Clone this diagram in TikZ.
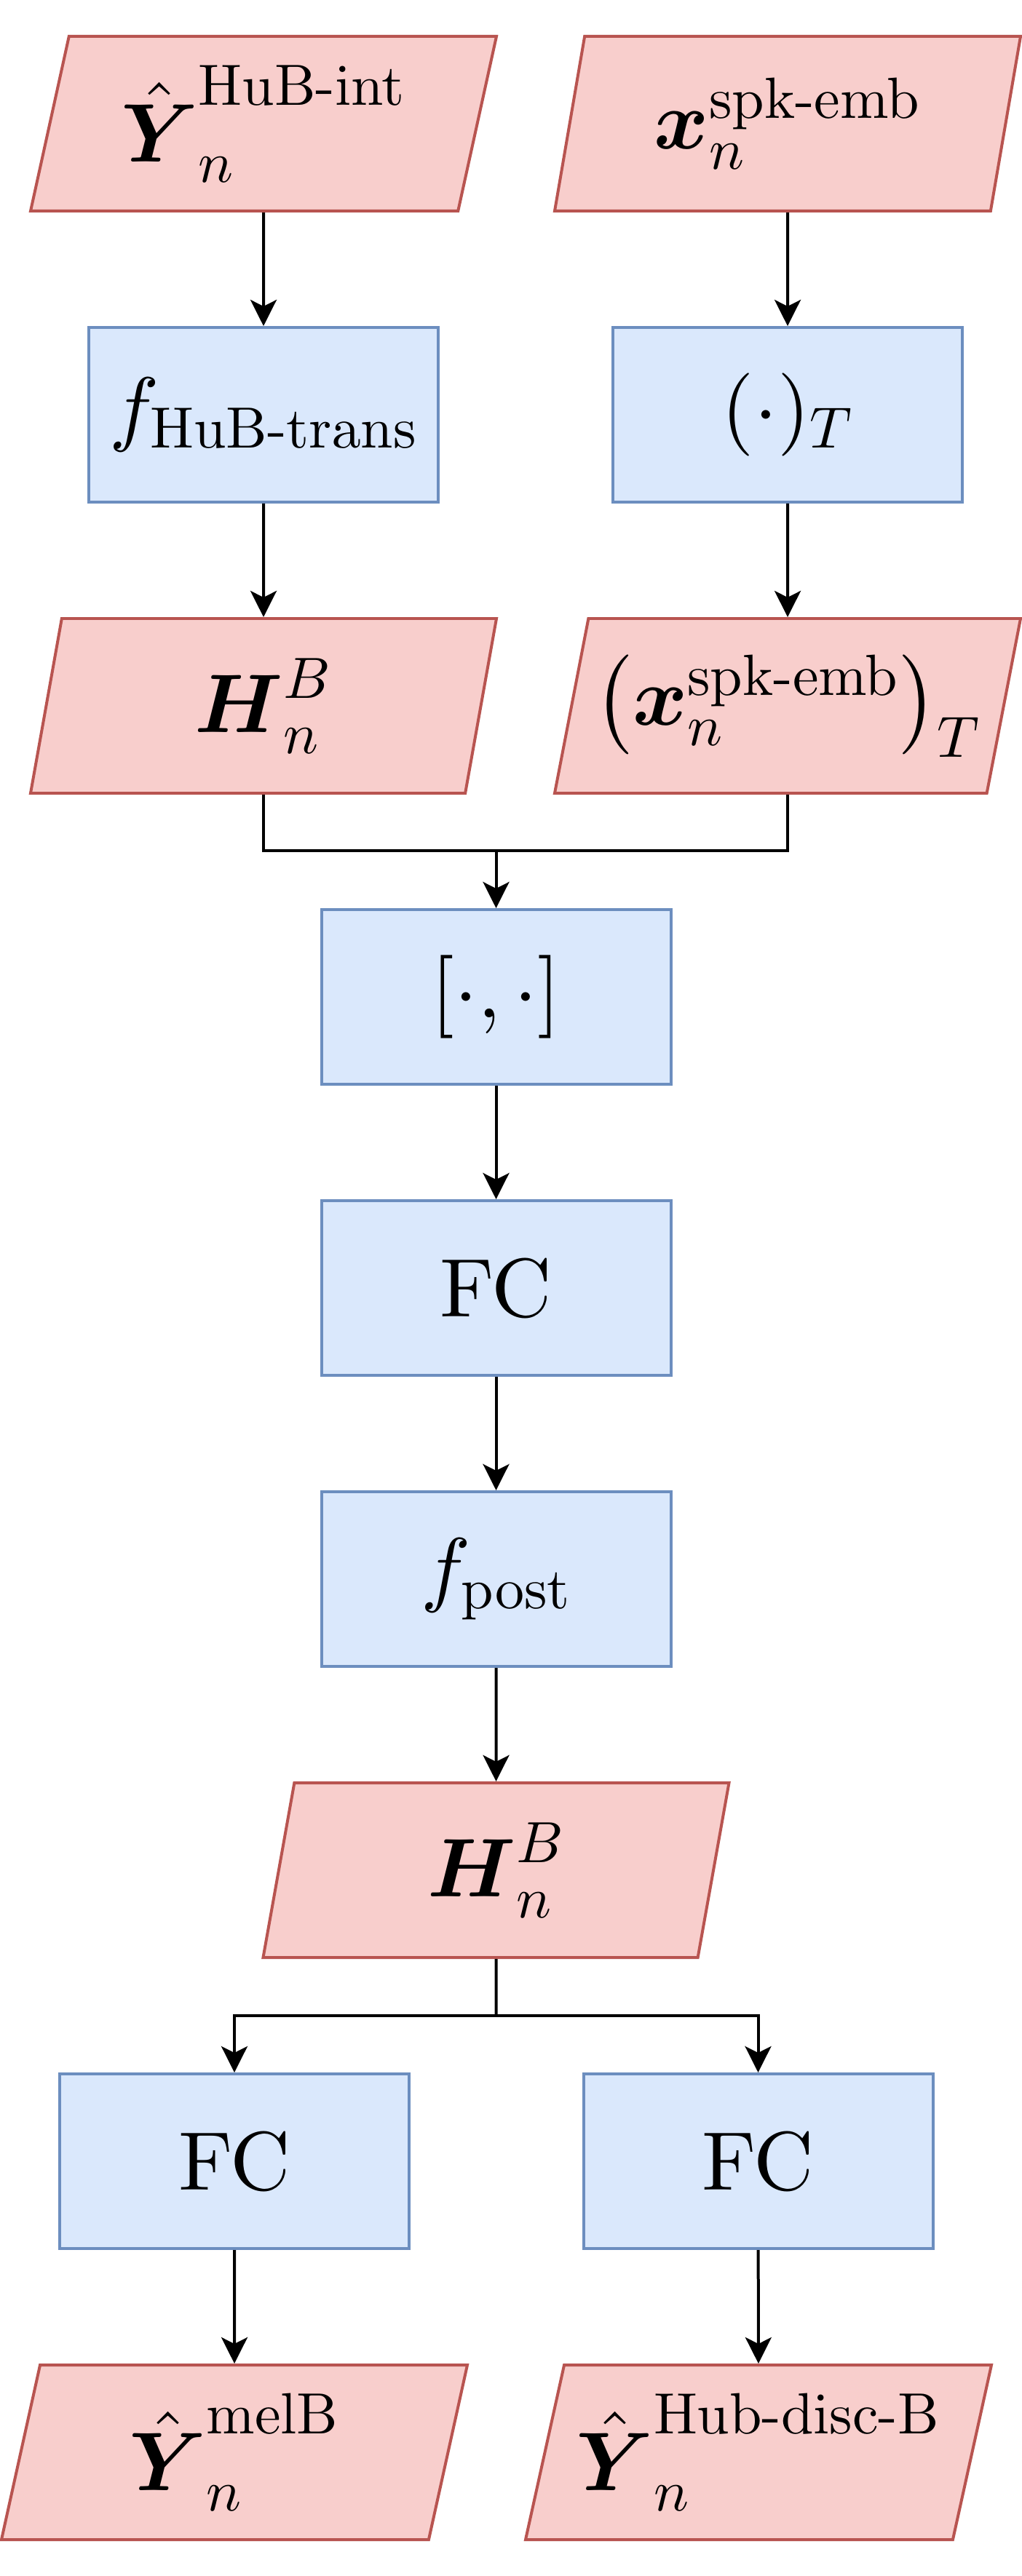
\documentclass[tikz,border=0pt]{standalone}
\renewcommand{\rmdefault}{cmr}
\usepackage[OT1]{fontenc}
\usepackage{amsmath,amssymb}
\usetikzlibrary{shapes.geometric,arrows.meta}

%% one design size for every size, as the original math renderer does
\DeclareFontShape{OT1}{cmr}{m}{n}{<-> cmr10}{}
\DeclareFontShape{OT1}{cmr}{bx}{n}{<-> cmbx10}{}
\DeclareFontShape{OML}{cmm}{m}{it}{<-> cmmi10}{}
\DeclareFontShape{OML}{cmm}{b}{it}{<-> cmmib10}{}
\DeclareFontShape{OMS}{cmsy}{m}{n}{<-> cmsy10}{}
\DeclareFontShape{OMS}{cmsy}{b}{n}{<-> cmbsy10}{}
\DeclareFontShape{OMX}{cmex}{m}{n}{<-> cmex10}{}

\definecolor{datafill}{HTML}{F8CECC}
\definecolor{dataline}{HTML}{B85450}
\definecolor{opfill}{HTML}{DAE8FC}
\definecolor{opline}{HTML}{6C8EBF}

\tikzset{
    every node/.style={font=\fontsize{32.5}{39}\selectfont},
    data/.style={trapezium, trapezium left angle=71.8, trapezium right angle=108.2,
        trapezium stretches body, minimum width=6.40cm, minimum height=2.40cm,
        inner sep=0pt, fill=datafill, draw=dataline, line width=0.04cm},
    op/.style={rectangle, minimum width=4.80cm, minimum height=2.40cm,
        fill=opfill, draw=opline, line width=0.04cm},
    link/.style={line width=0.04cm},
    flow/.style={link, -{Stealth[length=0.36cm,width=0.36cm,inset=0.09cm]}},
}

\begin{document}
\begin{tikzpicture}
    \useasboundingbox (0,0) rectangle (14.04,-35.40);

    %% Inputs
    \node[data] (inY) at (3.62,-1.70) {$\hat{\boldsymbol{Y}}_n^{\text{HuB-int}}$};
    \node[data] (inX) at (10.82,-1.70) {$\boldsymbol{x}_n^{\text{spk-emb}}$};

    %% Two branches
    \node[op] (trans) at (3.62,-5.70) {$f_{\text{HuB-trans}}$};
    \node[op] (tpose) at (10.82,-5.70) {$(\cdot)_T$};
    \node[data] (HB) at (3.62,-9.70) {$\boldsymbol{H}_n^B$};
    \node[data] (xT) at (10.82,-9.70) {$\left(\boldsymbol{x}_n^{\text{spk-emb}}\right)_T$};

    %% Main trunk
    \coordinate (merge) at (6.815,-11.69);
    \node[op] (concat) at (6.815,-13.70) {$[\cdot,\cdot]$};
    \node[op] (fc) at (6.815,-17.70) {FC};
    \node[op] (post) at (6.815,-21.70) {$f_{\text{post}}$};
    \node[data] (HB2) at (6.815,-25.70) {$\boldsymbol{H}_n^B$};

    %% Output heads
    \coordinate (split) at (6.815,-27.70);
    \node[op] (fcA) at (3.22,-29.70) {FC};
    \node[op] (fcB) at (10.415,-29.70) {FC};
    \node[data] (outA) at (3.22,-33.70) {$\hat{\boldsymbol{Y}}_n^{\text{melB}}$};
    \node[data] (outB) at (10.42,-33.70) {$\hat{\boldsymbol{Y}}_n^{\text{Hub-disc-B}}$};

    %% Connections
    \draw[flow] (inY) -- (trans);
    \draw[flow] (inX) -- (tpose);
    \draw[flow] (trans) -- (HB);
    \draw[flow] (tpose) -- (xT);
    \draw[link] (HB) |- (merge) -| (xT);
    \draw[flow] (merge) -- (concat);
    \draw[flow] (concat) -- (fc);
    \draw[flow] (fc) -- (post);
    \draw[flow] (post) -- (HB2);
    \draw[link] (HB2) -- (split);
    \draw[flow] (split) -| (fcA);
    \draw[flow] (split) -| (fcB);
    \draw[flow] (fcA) -- (outA);
    \draw[flow] (fcB) -- (outB);
\end{tikzpicture}
\end{document}
